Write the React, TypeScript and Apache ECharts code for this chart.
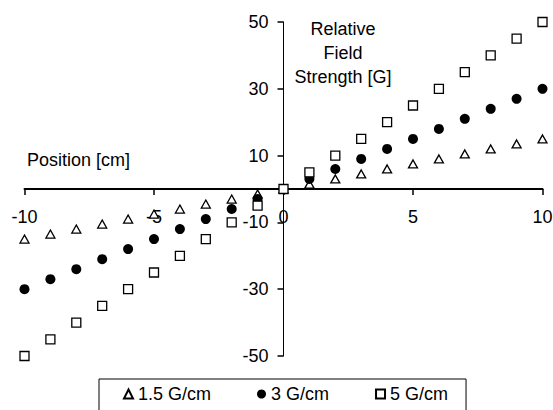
import React, { useEffect, useRef } from "react";
import * as echarts from "echarts";

const positions = [-10, -9, -8, -7, -6, -5, -4, -3, -2, -1, 0, 1, 2, 3, 4, 5, 6, 7, 8, 9, 10];
const g15 = [-15, -13.5, -12, -10.5, -9, -7.5, -6, -4.5, -3, -1.5, 0, 1.5, 3, 4.5, 6, 7.5, 9, 10.5, 12, 13.5, 15];
const g3 = [-30, -27, -24, -21, -18, -15, -12, -9, -6, -3, 0, 3, 6, 9, 12, 15, 18, 21, 24, 27, 30];
const g5 = [-50, -45, -40, -35, -30, -25, -20, -15, -10, -5, 0, 5, 10, 15, 20, 25, 30, 35, 40, 45, 50];
const seriesNames = ["1.5 G/cm", "3 G/cm", "5 G/cm"];
const xTicks = [-10, -5, 0, 5, 10];
const yTicks = [-50, -30, -10, 10, 30, 50];

const FONT = "'Liberation Sans', Arial, sans-serif";

const GRID = { left: 24.5, right: 10.5, top: 22, bottom: 54 };
const W = 553;
const H = 410;
const plotW = W - GRID.left - GRID.right;
const plotH = H - GRID.top - GRID.bottom;
const Y_OFFSET = -plotW / 2;
const X_OFFSET = -plotH / 2;

export default function App() {
  const ref = useRef<HTMLDivElement>(null);
  useEffect(() => {
    if (!ref.current) return;
    const chart = echarts.init(ref.current, null, { renderer: "svg" });
    const pair = (vals: number[]) => positions.map((x, i) => [x, vals[i]]);
    chart.setOption({
      animation: false,
      backgroundColor: "#fff",
      textStyle: { fontFamily: FONT },
      grid: { ...GRID, containLabel: false, outerBoundsMode: "none" },
      xAxis: {
        type: "value",
        position: "bottom",
        offset: X_OFFSET,
        min: -10,
        max: 10,
        interval: 5,
        axisLine: { show: true, onZero: false, lineStyle: { color: "#000", width: 2, opacity: 1 } },
        splitLine: { show: false },
        axisTick: { show: true, inside: false, length: 6, customValues: xTicks, lineStyle: { color: "#000", width: 1.5 } },
        axisLabel: { customValues: xTicks, margin: 19, fontSize: 18, color: "#000", fontFamily: FONT },
      },
      yAxis: {
        type: "value",
        position: "left",
        offset: Y_OFFSET,
        min: -50,
        max: 50,
        axisLine: { show: true, onZero: false, lineStyle: { color: "#000", width: 1 } },
        splitLine: { show: false },
        axisTick: { show: true, inside: false, length: 6, customValues: yTicks, lineStyle: { color: "#000", width: 1.5 } },
        axisLabel: { customValues: yTicks, margin: 15, fontSize: 18, color: "#000", fontFamily: FONT },
      },
      legend: {
        left: 99,
        top: 379,
        orient: "horizontal",
        borderColor: "#000",
        borderWidth: 1,
        padding: [6, 18, 30, 24],
        itemGap: 46,
        itemWidth: 9,
        itemHeight: 9,
        textStyle: { fontSize: 18, color: "#000", fontFamily: FONT },
        data: seriesNames,
      },
      graphic: [
        {
          type: "text",
          left: 27,
          top: 151,
          style: { text: "Position [cm]", font: `18px ${FONT}`, fill: "#000" },
        },
        {
          type: "text",
          x: 343,
          y: 17,
          style: {
            text: "Relative\nField\nStrength [G]",
            font: `18px ${FONT}`,
            fill: "#000",
            align: "center",
            lineHeight: 24,
          },
        },
      ],
      series: [
        {
          name: seriesNames[0],
          type: "scatter",
          symbol: "triangle",
          symbolSize: [9, 8],
          itemStyle: { color: "#fff", borderColor: "#000", borderWidth: 1.3, opacity: 1 },
          data: pair(g15),
          z: 20,
        },
        {
          name: seriesNames[1],
          type: "scatter",
          symbol: "circle",
          symbolSize: 10,
          itemStyle: { color: "#000", borderColor: "#000", borderWidth: 0, opacity: 1 },
          data: pair(g3),
          z: 20,
        },
        {
          name: seriesNames[2],
          type: "scatter",
          symbol: "rect",
          symbolSize: 9,
          itemStyle: { color: "#fff", borderColor: "#000", borderWidth: 1.3, opacity: 1 },
          data: pair(g5),
          z: 20,
        },
      ],
    });
    return () => chart.dispose();
  }, []);
  return <div ref={ref} style={{ width: W, height: H, position: "absolute", left: 0, top: 0 }} />;
}
